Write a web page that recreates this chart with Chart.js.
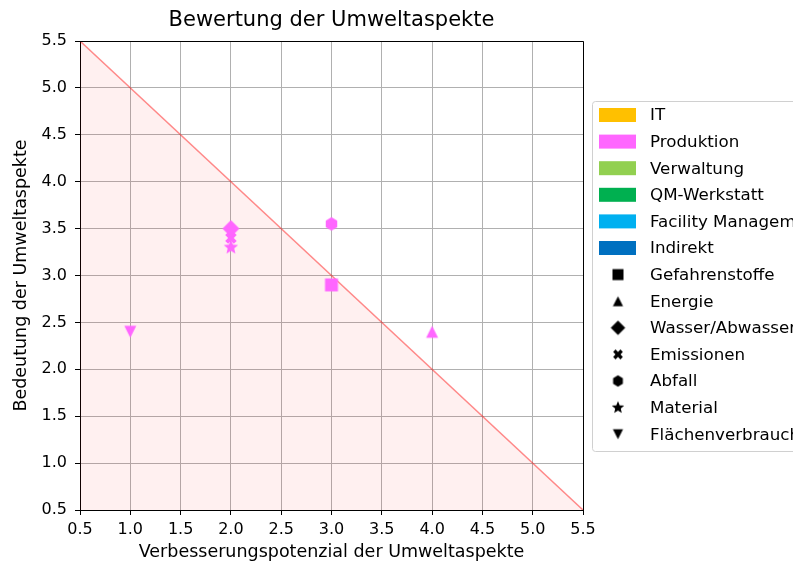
<!DOCTYPE html>
<html>
<head>
<meta charset="utf-8">
<script src="https://cdn.jsdelivr.net/npm/chart.js@4.4.1/dist/chart.umd.min.js"></script>
<style>
html, body { margin: 0; padding: 0; background: #fff; overflow: hidden; }
#wrap { width: 793px; height: 563px; position: relative; }
</style>
</head>
<body>
<div id="wrap"><canvas id="bewertung"></canvas></div>
<script>
// Abteilungen und ihre Farben (Legende)
const abteilungen = ['IT', 'Produktion', 'Verwaltung', 'QM-Werkstatt', 'Facility Management', 'Indirekt'];
const abteilungFarben = ['#FFC000', '#FF66FF', '#92D050', '#00B050', '#00B0F0', '#0070C0'];

// Umweltaspekte und ihre Marker
const aspekte = ['Gefahrenstoffe', 'Energie', 'Wasser/Abwasser', 'Emissionen', 'Abfall', 'Material', 'Flächenverbrauch'];
const aspektMarker = ['square', 'triUp', 'diamond', 'xfill', 'hexagon', 'star', 'triDown'];

// Bewertung Produktion: x = Verbesserungspotenzial, y = Bedeutung
const produktionX = [3, 4, 2, 2, 3, 2, 1];
const produktionY = [2.9, 2.4, 3.5, 3.4, 3.55, 3.3, 2.4];

// Grenzlinie (x + y = 6)
const grenzeX = [0.5, 5.5];
const grenzeY = [5.5, 0.5];

// Achsen
const achseMin = 0.5;
const achseMax = 5.5;
const achseSchritt = 0.5;

const titelText = 'Bewertung der Umweltaspekte';

Chart.defaults.font.family = "'DejaVu Sans', sans-serif";
Chart.defaults.color = '#000';

// kleine Canvas-Marker wie bei matplotlib
function markerBild(form, farbe, groesse) {
    const c = document.createElement('canvas');
    c.width = c.height = Math.ceil(groesse) + 2;
    const g = c.getContext('2d');
    const m = c.width / 2, r = groesse / 2;
    g.fillStyle = farbe;
    g.beginPath();
    if (form === 'square') {
        g.rect(m - r * 0.72, m - r * 0.72, r * 1.44, r * 1.44);
    } else if (form === 'triUp') {
        g.moveTo(m, m - r * 0.8);
        g.lineTo(m + r * 0.8, m + r * 0.8);
        g.lineTo(m - r * 0.8, m + r * 0.8);
    } else if (form === 'triDown') {
        g.moveTo(m, m + r * 0.8);
        g.lineTo(m + r * 0.8, m - r * 0.8);
        g.lineTo(m - r * 0.8, m - r * 0.8);
    } else if (form === 'diamond') {
        g.moveTo(m, m - r);
        g.lineTo(m + r, m);
        g.lineTo(m, m + r);
        g.lineTo(m - r, m);
    } else if (form === 'hexagon') {
        for (let i = 0; i < 6; i++) {
            const a = -Math.PI / 2 + i * Math.PI / 3;
            g.lineTo(m + Math.cos(a) * r * 0.78, m + Math.sin(a) * r * 0.78);
        }
    } else if (form === 'star') {
        for (let i = 0; i < 10; i++) {
            const a = -Math.PI / 2 + i * Math.PI / 5;
            const rr = i % 2 === 0 ? r * 0.85 : r * 0.38;
            g.lineTo(m + Math.cos(a) * rr, m + Math.sin(a) * rr);
        }
    } else if (form === 'xfill') {
        const w = r * 0.36, l = r * 0.72;
        const pts = [[w, 0], [l, l - w], [l - w, l], [0, w], [-(l - w), l], [-l, l - w], [-w, 0],
                     [-l, -(l - w)], [-(l - w), -l], [0, -w], [l - w, -l], [l, -(l - w)]];
        pts.forEach(p => g.lineTo(m + p[0], m + p[1]));
    }
    g.closePath();
    g.fill();
    return c;
}

const markerGroesse = { square: 18, triUp: 15, triDown: 15, diamond: 17, hexagon: 17, star: 18, xfill: 16 };

const punktDatasets = aspekte.map((name, i) => ({
    type: 'scatter',
    label: name,
    data: [{ x: produktionX[i], y: produktionY[i] }],
    pointStyle: markerBild(aspektMarker[i], abteilungFarben[1], markerGroesse[aspektMarker[i]]),
    pointRadius: 7,
    order: 0
}));

// Rahmen oben/rechts + Titel über dem Plotbereich
const rahmenPlugin = {
    id: 'rahmen',
    afterDatasetsDraw(chart) {
        const { ctx, chartArea: a } = chart;
        ctx.save();
        ctx.strokeStyle = '#000';
        ctx.lineWidth = 1;
        ctx.beginPath();
        ctx.moveTo(a.left, a.top + 0.5);
        ctx.lineTo(a.right + 0.5, a.top + 0.5);
        ctx.lineTo(a.right + 0.5, a.bottom);
        ctx.stroke();
        ctx.font = "21px 'DejaVu Sans'";
        ctx.textAlign = 'center';
        ctx.textBaseline = 'middle';
        ctx.fillStyle = '#000';
        ctx.fillText(titelText, (a.left + a.right) / 2, 21);
        ctx.restore();
    }
};

// Legende rechts (läuft über den Rand wie im Original)
const legendePlugin = {
    id: 'legende',
    afterDraw(chart) {
        const ctx = chart.ctx;
        const x0 = 592.5, y0 = 101.5, w = 230, h = 350;
        ctx.save();
        ctx.fillStyle = 'rgba(255,255,255,0.8)';
        ctx.strokeStyle = '#d0d0d0';
        ctx.lineWidth = 1;
        ctx.beginPath();
        ctx.roundRect(x0, y0, w, h, 3);
        ctx.fill();
        ctx.stroke();
        ctx.font = "16.7px 'DejaVu Sans'";
        ctx.textBaseline = 'middle';
        ctx.fillStyle = '#000';
        const zeile = 26.6;
        let y = 115;
        abteilungen.forEach((name, i) => {
            ctx.fillStyle = abteilungFarben[i];
            ctx.fillRect(599, y - 7, 37, 14);
            ctx.fillStyle = '#000';
            ctx.fillText(name, 650, y + 1);
            y += zeile;
        });
        aspekte.forEach((name, i) => {
            const bild = markerBild(aspektMarker[i], '#000', markerGroesse[aspektMarker[i]] * 0.85);
            ctx.drawImage(bild, 618 - bild.width / 2, y - bild.height / 2);
            ctx.fillText(name, 650, y + 1);
            y += zeile;
        });
        ctx.restore();
    }
};

const achse = (titel, pad) => ({
    type: 'linear',
    min: achseMin,
    max: achseMax,
    ticks: {
        stepSize: achseSchritt,
        font: { size: 16 },
        padding: pad,
        callback: v => v.toFixed(1)
    },
    grid: { color: '#b0b0b0', lineWidth: 1, tickColor: '#000', tickLength: 5 },
    border: { color: '#000', width: 1 },
    title: { display: true, text: titel, font: { size: 17.5 } }
});

const xAchse = achse('Verbesserungspotenzial der Umweltaspekte', 5);
xAchse.title.padding = { top: 0, bottom: 0 };
xAchse.afterFit = s => { s.height = 53; };
const yAchse = achse('Bedeutung der Umweltaspekte', 8);
yAchse.title.padding = { top: 11, bottom: 9 };
yAchse.afterFit = s => { s.width = 80; };

new Chart(document.getElementById('bewertung'), {
    data: {
        datasets: [{
            type: 'line',
            label: 'Grenze',
            data: grenzeX.map((x, i) => ({ x: x, y: grenzeY[i] })),
            borderColor: 'rgba(255,0,0,0.45)',
            backgroundColor: 'rgba(255,0,0,0.06)',
            borderWidth: 1.5,
            pointRadius: 0,
            fill: 'start',
            order: 10
        }, ...punktDatasets]
    },
    options: {
        responsive: true,
        maintainAspectRatio: false,
        animation: false,
        layout: { padding: { left: 0, right: 210, top: 41, bottom: 0 } },
        scales: { x: xAchse, y: yAchse },
        plugins: {
            legend: { display: false },
            tooltip: { enabled: false },
            title: { display: false }
        }
    },
    plugins: [rahmenPlugin, legendePlugin]
});
</script>
</body>
</html>
